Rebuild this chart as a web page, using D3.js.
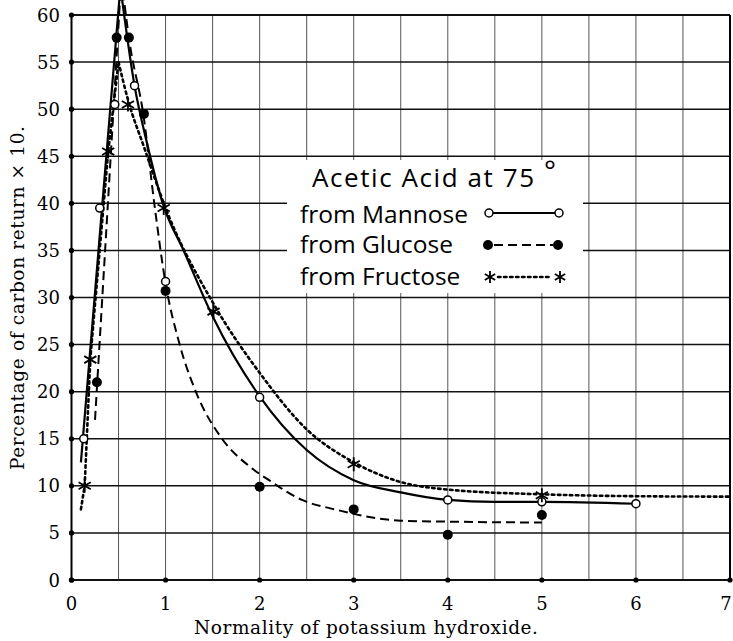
<!DOCTYPE html>
<html>
<head>
<meta charset="utf-8">
<script src="https://cdn.jsdelivr.net/npm/d3@7"></script>
<style>
  body { margin: 0; background: #fff; }
  svg { display: block; }
</style>
</head>
<body>
<div id="container"></div>
<script>
const w = 733;
const h = 641;

// axis ticks
const xTicks = [0, 1, 2, 3, 4, 5, 6, 7];
const yTicks = [0, 5, 10, 15, 20, 25, 30, 35, 40, 45, 50, 55, 60];
const xGrid = [0.5, 1, 1.5, 2, 2.5, 3, 3.5, 4, 4.5, 5, 5.5, 6, 6.5];

// measured points
const mannosePts = [[0.13, 15], [0.3, 39.5], [0.46, 50.5], [0.67, 52.5], [1, 31.7], [2, 19.4], [4, 8.5], [5, 8.3], [6, 8.1]];
const glucosePts = [[0.27, 21], [0.48, 57.6], [0.61, 57.6], [0.77, 49.5], [1, 30.7], [2, 9.9], [3, 7.5], [4, 4.8], [5, 6.9]];
const fructosePts = [[0.14, 10], [0.2, 23.4], [0.39, 45.5], [0.6, 50.5], [0.98, 39.5], [1.51, 28.5], [3, 12.3], [5, 9]];

// hand-drawn curves (rising part, falling part)
const mannoseRise = [[0.1, 12.5], [0.52, 63]];
const mannoseFall = [[0.52, 63], [0.67, 52.5], [0.8, 46.5], [0.97, 40], [1.2, 34.8], [1.5, 28], [2, 19.5], [2.5, 13.8], [3, 10.6], [3.5, 9.3], [4, 8.5], [4.5, 8.3], [5, 8.3], [6, 8.1]];
const glucoseRise = [[0.25, 17], [0.53, 64]];
const glucoseFall = [[0.53, 64], [0.61, 57.6], [0.77, 49], [0.88, 40], [1, 31.5], [1.15, 25], [1.33, 19.8], [1.6, 15], [1.9, 12], [2.1, 10.6], [2.45, 8.5], [2.8, 7.5], [3.5, 6.3], [4, 6.2], [5, 6.1]];
const fructoseRise = [[0.1, 7.5], [0.14, 10], [0.2, 23.5], [0.39, 45.5], [0.5, 55]];
const fructoseFall = [[0.5, 55], [0.6, 51], [0.77, 46], [1, 39.5], [1.5, 29.5], [2, 22], [2.5, 16], [3, 12.5], [3.5, 10.4], [4, 9.6], [5, 9.1], [6, 8.9], [7, 8.85]];

const legendTitle = "Acetic Acid at 75";
const legendRows = ["from Mannose", "from Glucose", "from Fructose"];

const x = d3.scaleLinear().domain([0, 7]).range([71.5, 730]);
const y = d3.scaleLinear().domain([0, 60]).range([580, 15]);

const svg = d3.select("#container").append("svg")
  .attr("width", w).attr("height", h);

// vertical grid
svg.append("g").selectAll("line").data(xGrid).enter().append("line")
  .attr("x1", d => x(d)).attr("x2", d => x(d))
  .attr("y1", y(60)).attr("y2", y(0))
  .attr("stroke", "#555").attr("stroke-width", 1);

// horizontal grid
svg.append("g").selectAll("line").data(yTicks).enter().append("line")
  .attr("x1", x(0)).attr("x2", x(7))
  .attr("y1", d => y(d)).attr("y2", d => y(d))
  .attr("stroke", "#111").attr("stroke-width", d => (d === 0 || d === 60) ? 2 : 1.5);

// frame left / right
svg.append("line").attr("x1", x(0)).attr("x2", x(0)).attr("y1", y(60)).attr("y2", y(0))
  .attr("stroke", "#000").attr("stroke-width", 2);
svg.append("line").attr("x1", x(7)).attr("x2", x(7)).attr("y1", y(60)).attr("y2", y(0))
  .attr("stroke", "#000").attr("stroke-width", 2);

// tick dots
svg.append("g").selectAll("circle").data(yTicks).enter().append("circle")
  .attr("cx", x(0)).attr("cy", d => y(d)).attr("r", 2.6).attr("fill", "#000");
svg.append("g").selectAll("circle").data(xTicks).enter().append("circle")
  .attr("cx", d => x(d)).attr("cy", y(0)).attr("r", 2.6).attr("fill", "#000");

// tick labels
svg.append("g").selectAll("text").data(yTicks).enter().append("text")
  .attr("x", 60).attr("y", d => y(d) + 6.5)
  .attr("text-anchor", "end")
  .attr("font-family", "DejaVu Serif").attr("font-size", 18)
  .text(d => d);
svg.append("g").selectAll("text").data(xTicks).enter().append("text")
  .attr("x", d => d === 7 ? x(d) - 4 : x(d)).attr("y", 610)
  .attr("text-anchor", "middle")
  .attr("font-family", "DejaVu Serif").attr("font-size", 18)
  .text(d => d);

// axis titles
svg.append("text")
  .attr("x", 366).attr("y", 634)
  .attr("text-anchor", "middle")
  .attr("font-family", "DejaVu Serif").attr("font-size", 18.5)
  .attr("textLength", 344)
  .text("Normality of potassium hydroxide.");
svg.append("text")
  .attr("transform", "translate(24,298) rotate(-90)")
  .attr("text-anchor", "middle")
  .attr("font-family", "DejaVu Serif").attr("font-size", 18.5)
  .attr("textLength", 344)
  .text("Percentage of carbon return \u00d7 10.");

// legend box
svg.append("rect").attr("x", 287).attr("y", 160).attr("width", 296).attr("height", 133)
  .attr("fill", "#fff");

// curves
const line = d3.line().x(d => x(d[0])).y(d => y(d[1]));
const smooth = d3.line().x(d => x(d[0])).y(d => y(d[1])).curve(d3.curveMonotoneX);

const styles = {
  mannose: { dash: null, width: 2.2 },
  glucose: { dash: "9,5", width: 2 },
  fructose: { dash: "2.5,3.5", width: 2.6 }
};

function drawCurve(rise, fall, st) {
  [line(rise), smooth(fall)].forEach(p => {
    svg.append("path").attr("d", p)
      .attr("fill", "none").attr("stroke", "#000")
      .attr("stroke-width", st.width)
      .attr("stroke-dasharray", st.dash)
      .attr("stroke-linecap", st.dash === "2.5,3.5" ? "round" : "butt");
  });
}
drawCurve(mannoseRise, mannoseFall, styles.mannose);
drawCurve(glucoseRise, glucoseFall, styles.glucose);
drawCurve(fructoseRise, fructoseFall, styles.fructose);

// markers
function openCircle(g, px, py) {
  g.append("circle").attr("cx", px).attr("cy", py).attr("r", 4)
    .attr("fill", "#fff").attr("stroke", "#000").attr("stroke-width", 1.5);
}
function dot(g, px, py) {
  g.append("circle").attr("cx", px).attr("cy", py).attr("r", 5).attr("fill", "#000");
}
function star(g, px, py, r = 7) {
  const p = d3.path();
  for (let k = 0; k < 3; k++) {
    const a = Math.PI / 2 + k * Math.PI / 3;
    p.moveTo(px + r * Math.cos(a), py + r * Math.sin(a));
    p.lineTo(px - r * Math.cos(a), py - r * Math.sin(a));
  }
  g.append("path").attr("d", p.toString()).attr("stroke", "#000").attr("stroke-width", 1.8).attr("fill", "none");
}

const mk = svg.append("g");
mannosePts.forEach(d => openCircle(mk, x(d[0]), y(d[1])));
glucosePts.forEach(d => dot(mk, x(d[0]), y(d[1])));
fructosePts.forEach(d => star(mk, x(d[0]), y(d[1])));

// legend
const lg = svg.append("g").attr("font-family", "Open Sans").attr("fill", "#000");
lg.append("text").attr("x", 312).attr("y", 187).attr("font-size", 26)
  .attr("textLength", 222).text(legendTitle);
lg.append("text").attr("x", 544).attr("y", 181).attr("font-size", 28).text("\u00b0");
const rowY = [223, 253, 285];
const lineY = [213, 245, 277];
legendRows.forEach((t, i) => {
  lg.append("text").attr("x", 300).attr("y", rowY[i]).attr("font-size", 24.5).text(t);
});
svg.append("line").attr("x1", 489).attr("x2", 559).attr("y1", lineY[0]).attr("y2", lineY[0])
  .attr("stroke", "#000").attr("stroke-width", 2.2);
openCircle(svg, 489, lineY[0]); openCircle(svg, 559, lineY[0]);
svg.append("line").attr("x1", 494).attr("x2", 553).attr("y1", lineY[1]).attr("y2", lineY[1])
  .attr("stroke", "#000").attr("stroke-width", 2).attr("stroke-dasharray", "9,5");
dot(svg, 488, lineY[1]); dot(svg, 558, lineY[1]);
svg.append("line").attr("x1", 498).attr("x2", 552).attr("y1", lineY[2]).attr("y2", lineY[2])
  .attr("stroke", "#000").attr("stroke-width", 2.6).attr("stroke-dasharray", "2.5,3.5").attr("stroke-linecap", "round");
star(svg, 490, lineY[2], 6); star(svg, 560, lineY[2], 6);
</script>
</body>
</html>
